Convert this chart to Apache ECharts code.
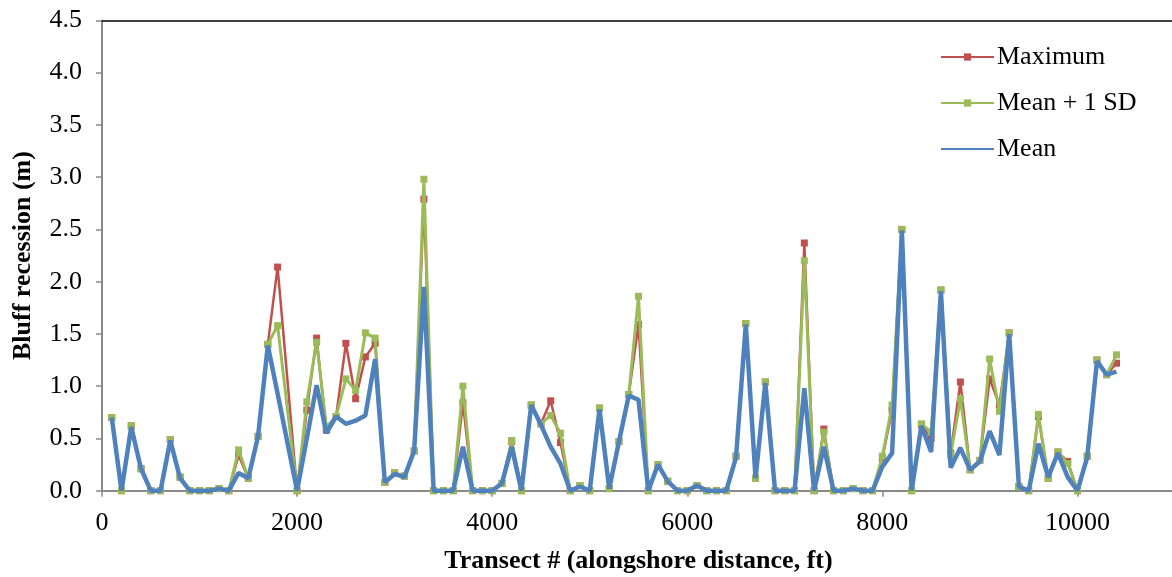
<!DOCTYPE html>
<html>
<head>
<meta charset="utf-8">
<script src="https://cdn.jsdelivr.net/npm/echarts@6/dist/echarts.min.js"></script>
<style>
  html, body { margin: 0; padding: 0; background: #ffffff; }
  #chart { width: 1172px; height: 577px; }
</style>
</head>
<body>
<div id="chart"></div>
<script>
// Transect positions along the shore (ft); 1900 has no survey value
const transects = [];
for (let t = 100; t <= 10400; t += 100) transects.push(t);

// Bluff recession (m) per transect
const maximum = [
  0.70, 0, 0.62, 0.21, 0, 0, 0.49, 0.13, 0, 0,
  0, 0.02, 0, 0.34, 0.12, 0.52, 1.40, 2.14, null, 0,
  0.77, 1.46, 0.58, 0.71, 1.41, 0.88, 1.28, 1.41, 0.08, 0.17,
  0.14, 0.38, 2.79, 0, 0, 0, 0.84, 0, 0, 0,
  0.07, 0.47, 0, 0.82, 0.64, 0.86, 0.46, 0, 0.05, 0,
  0.79, 0.02, 0.47, 0.92, 1.59, 0, 0.25, 0.09, 0, 0,
  0.05, 0, 0, 0, 0.33, 1.60, 0.12, 1.04, 0, 0,
  0, 2.37, 0, 0.59, 0, 0, 0.02, 0, 0, 0.31,
  0.77, 2.50, 0, 0.63, 0.50, 1.92, 0.36, 1.04, 0.20, 0.29,
  1.07, 0.82, 1.51, 0.04, 0, 0.71, 0.12, 0.37, 0.28, 0,
  0.33, 1.25, 1.11, 1.22
];
const meanPlusSD = [
  0.70, 0, 0.62, 0.21, 0, 0, 0.49, 0.13, 0, 0,
  0, 0.02, 0, 0.39, 0.12, 0.52, 1.40, 1.58, null, 0,
  0.85, 1.42, 0.61, 0.71, 1.07, 0.96, 1.51, 1.46, 0.08, 0.17,
  0.14, 0.38, 2.98, 0, 0, 0, 1.00, 0, 0, 0,
  0.07, 0.48, 0, 0.82, 0.64, 0.72, 0.55, 0, 0.05, 0,
  0.79, 0.02, 0.47, 0.92, 1.86, 0, 0.25, 0.09, 0, 0,
  0.05, 0, 0, 0, 0.33, 1.60, 0.12, 1.04, 0, 0,
  0, 2.20, 0, 0.56, 0, 0, 0.02, 0, 0, 0.33,
  0.82, 2.50, 0, 0.64, 0.56, 1.92, 0.34, 0.88, 0.20, 0.29,
  1.26, 0.76, 1.51, 0.04, 0, 0.73, 0.12, 0.37, 0.26, 0,
  0.33, 1.25, 1.11, 1.30
];
const mean = [
  0.70, 0, 0.61, 0.21, 0, 0, 0.48, 0.12, 0, 0,
  0, 0.02, 0, 0.17, 0.12, 0.52, 1.39, 0.93, null, 0,
  0.50, 1.01, 0.55, 0.71, 0.64, 0.67, 0.72, 1.26, 0.08, 0.16,
  0.13, 0.38, 1.95, 0, 0, 0, 0.42, 0, 0, 0,
  0.07, 0.42, 0, 0.82, 0.63, 0.42, 0.26, 0, 0.04, 0,
  0.78, 0.02, 0.47, 0.91, 0.87, 0, 0.25, 0.09, 0, 0,
  0.05, 0, 0, 0, 0.32, 1.59, 0.12, 1.03, 0, 0,
  0, 0.98, 0, 0.42, 0, 0, 0.02, 0, 0, 0.23,
  0.36, 2.49, 0, 0.62, 0.37, 1.91, 0.22, 0.41, 0.20, 0.28,
  0.57, 0.34, 1.50, 0.04, 0, 0.45, 0.13, 0.36, 0.13, 0,
  0.32, 1.24, 1.11, 1.14
];

const xTicks = [0, 2000, 4000, 6000, 8000, 10000];

const pair = arr => transects.map((t, i) => [t, arr[i]]);

const FONT = '"Liberation Serif", "Times New Roman", serif';
const AXIS_GREY = '#898989';

const chart = echarts.init(document.getElementById('chart'), null, { renderer: 'canvas' });

chart.setOption({
  animation: false,
  backgroundColor: '#ffffff',
  textStyle: { fontFamily: FONT, color: '#000' },
  grid: {
    left: 102, top: 20.4, width: 1073, height: 470.3,
    containLabel: false,
    outerBoundsMode: 'none'
  },
  legend: {
    orient: 'vertical',
    left: 935,
    top: 39,
    itemWidth: 53,
    itemHeight: 9,
    itemGap: 20,
    textStyle: { fontFamily: FONT, fontSize: 26, color: '#000', padding: [0, 0, 0, -2] },
    data: [
      'Maximum',
      'Mean + 1 SD',
      // the mean line carries no markers, so its key shows the line alone
      { name: 'Mean', itemStyle: { opacity: 0 } }
    ]
  },
  xAxis: [{
    type: 'value',
    min: 0,
    max: 11000,
    interval: 2000,
    name: 'Transect # (alongshore distance, ft)',
    nameLocation: 'middle',
    nameGap: 58,
    nameTextStyle: { fontFamily: FONT, fontSize: 26, fontWeight: 'bold', color: '#000' },
    axisLine: { show: true, lineStyle: { color: AXIS_GREY, width: 2 } },
    axisTick: { show: true, inside: false, length: 6, lineStyle: { color: AXIS_GREY, width: 1.5 } },
    axisLabel: {
      fontFamily: FONT, fontSize: 26, color: '#000', margin: 19,
      showMaxLabel: false,
      formatter: v => (xTicks.indexOf(v) >= 0 ? String(v) : '')
    },
    splitLine: { show: false }
  }, {
    type: 'value',
    position: 'top',
    min: 0,
    max: 11000,
    axisLine: { show: true, onZero: false, lineStyle: { color: '#000', width: 1.5 } },
    axisTick: { show: false },
    axisLabel: { show: false },
    splitLine: { show: false }
  }],
  yAxis: {
    type: 'value',
    min: 0,
    max: 4.5,
    interval: 0.5,
    name: 'Bluff recession (m)',
    nameLocation: 'middle',
    nameGap: 66,
    nameTextStyle: { fontFamily: FONT, fontSize: 26, fontWeight: 'bold', color: '#000' },
    axisLine: { show: true, lineStyle: { color: AXIS_GREY, width: 2 } },
    axisTick: { show: true, length: 6, lineStyle: { color: AXIS_GREY, width: 1.5 } },
    axisLabel: {
      fontFamily: FONT, fontSize: 26, color: '#000', margin: 20,
      formatter: v => v.toFixed(1)
    },
    splitLine: { show: false }
  },
  series: [{
    name: 'Maximum',
    type: 'line',
    data: pair(maximum),
    connectNulls: true,
    color: '#C0504D',
    lineStyle: { width: 2.5, color: '#C0504D' },
    symbol: 'rect',
    symbolSize: 7,
    showAllSymbol: true,
    itemStyle: { color: '#C0504D' },
    z: 2
  }, {
    name: 'Mean + 1 SD',
    type: 'line',
    data: pair(meanPlusSD),
    connectNulls: true,
    color: '#9BBB59',
    lineStyle: { width: 3, color: '#9BBB59' },
    symbol: 'rect',
    symbolSize: 7,
    showAllSymbol: true,
    itemStyle: { color: '#9BBB59' },
    z: 3
  }, {
    name: 'Mean',
    type: 'line',
    data: pair(mean),
    connectNulls: true,
    color: '#4F81BD',
    lineStyle: { width: 4.5, color: '#4F81BD' },
    symbol: 'none',
    z: 4
  }]
});
</script>
</body>
</html>
